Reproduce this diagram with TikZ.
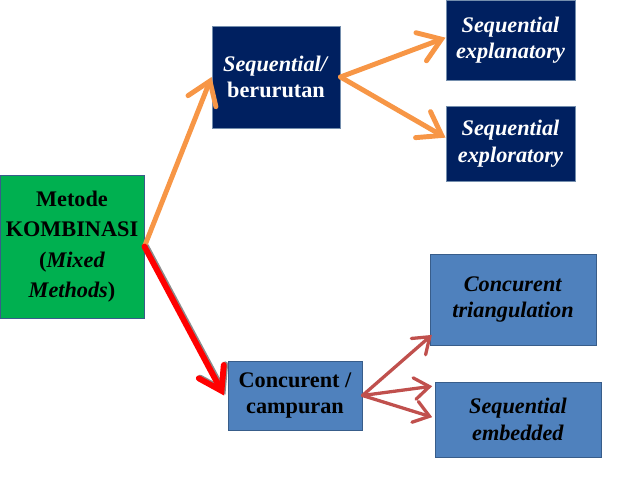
\documentclass[tikz,border=0pt]{standalone}
\usepackage{fontspec}
\setmainfont{Liberation Serif}
\usepackage{tikz}
\usetikzlibrary{arrows.meta,positioning,calc}
\definecolor{mgreen}{RGB}{0,176,80}
\definecolor{mnavy}{RGB}{0,32,96}
\definecolor{msteel}{RGB}{79,129,189}
\definecolor{mline}{RGB}{56,93,138}
\definecolor{morange}{RGB}{247,150,70}
\definecolor{mbrown}{RGB}{192,80,77}
\definecolor{mred}{RGB}{255,0,0}
\tikzset{
  rootbox/.style={draw=mline, line width=0.8pt, fill=mgreen, align=center,
      inner sep=0pt, font=\bfseries\fontsize{19}{26}\selectfont},
  seqbox/.style={draw=mline!70, line width=0.8pt, fill=mnavy, text=white,
      align=center, inner sep=0pt, font=\bfseries\fontsize{19}{22.5}\selectfont},
  conbox/.style={draw=mline, line width=0.8pt, fill=msteel, text=black,
      align=center, inner sep=0pt, font=\bfseries\fontsize{19}{22.5}\selectfont},
  oarr/.style={-{Straight Barb[length=6.5mm, width=9mm, line cap=round]},
      morange, line width=4.2pt, line cap=round, line join=round},
  rarr/.style={-{Straight Barb[length=6.5mm, width=8.5mm, line cap=round]},
      mred, line width=5pt, line cap=round,
      preaction={draw=black!45, line width=5pt, transform canvas={xshift=1.2pt, yshift=0.6pt}}},
  barr/.style={-{Straight Barb[length=4.5mm, width=6.5mm, line cap=round]},
      mbrown, line width=2.8pt, line cap=round},
}
\begin{document}
\begin{tikzpicture}[x=0.03cm, y=-0.03cm]
\useasboundingbox (0,0) rectangle (638,479);
%---- the boxes
\node[rootbox, minimum width=4.32cm, minimum height=4.29cm] (root) at (72,246.5)
  {Metode\\KOMBINASI\\(\textit{Mixed}\\\textit{Methods})};
\node[seqbox, minimum width=3.84cm, minimum height=3.06cm] (seq) at (276,77)
  {\textit{Sequential/}\\berurutan};
\node[seqbox, minimum width=3.87cm, minimum height=2.4cm] (expl) at (510.5,40)
  {\textit{Sequential}\\\textit{explanatory}};
\node[seqbox, minimum width=3.87cm, minimum height=2.25cm] (explr) at (510.5,143.5)
  {\textit{Sequential}\\\textit{exploratory}};
\node[conbox, minimum width=4.02cm, minimum height=2.07cm] (conc) at (295,395.5)
  {Concurent /\\campuran};
\node[conbox, minimum width=4.98cm, minimum height=2.73cm] (tri) at (513,299.5)
  {\textit{Concurent}\\\textit{triangulation}};
\node[conbox, minimum width=4.98cm, minimum height=2.25cm] (emb) at (518,419.5)
  {\textit{Sequential}\\\textit{embedded}};
%---- the arrows
\draw[oarr] (root.east) -- (seq.west);
\draw[oarr] (seq.east) -- ([yshift=2pt]expl.west);
\draw[oarr] (seq.east) -- ([yshift=5pt]explr.west);
\draw[rarr] (root.east) -- ([xshift=-3pt]conc.west);
\draw[barr] (conc.east) -- ([xshift=2pt,yshift=9pt]tri.south west);
\draw[barr] (conc.east) -- ([xshift=-2pt,yshift=-4pt]emb.north west);
\draw[barr] (conc.east) -- ([xshift=-2pt,yshift=2pt]emb.west);
\end{tikzpicture}
\end{document}
